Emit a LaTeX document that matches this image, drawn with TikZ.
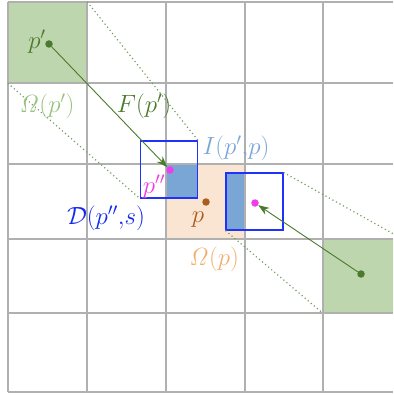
\documentclass[tikz,border=0pt]{standalone}
\usepackage{amsmath,amssymb}
\usetikzlibrary{arrows.meta,positioning,calc}
\definecolor{gridcol}{RGB}{176,176,176}
\definecolor{cellgreen}{RGB}{190,214,174}
\definecolor{darkgreen}{RGB}{74,122,44}
\definecolor{dotgreen}{RGB}{120,160,100}
\definecolor{lightgreen}{RGB}{150,196,128}
\definecolor{cellorange}{RGB}{249,229,209}
\definecolor{textorange}{RGB}{241,176,112}
\definecolor{pbrown}{RGB}{172,92,30}
\definecolor{sqblue}{RGB}{30,50,250}
\definecolor{fillblue}{RGB}{122,166,214}
\definecolor{dblue}{RGB}{20,40,240}
\definecolor{pmag}{RGB}{238,60,238}

\begin{document}
\begin{tikzpicture}[x=1pt,y=-1pt,
   lbl/.style={inner sep=0pt,font=\fontsize{24}{28}\selectfont},
   pt/.style={circle,inner sep=0pt,minimum size=7.5pt},
   cell/.style={rectangle,inner sep=0pt,minimum width=79pt,minimum height=81pt},
   dsq/.style={rectangle,draw=sqblue,line width=1.1pt,inner sep=0pt,minimum size=57pt},
   sweep/.style={dotgreen,line width=1.2pt,dash pattern=on 1.2pt off 2.8pt},
   flow/.style={darkgreen,line width=0.9pt,-{Stealth[length=11pt,width=8pt]}}]
  \useasboundingbox (0,0) rectangle (393,395);
  \begin{scope}
    \clip (0,0) rectangle (393,395);
    % ---------- cells ----------
    \node[cell,fill=cellgreen] (omA) at (47.5,42.5) {};
    \node[cell,fill=cellgreen,minimum height=74pt] (omB) at (362.5,276) {};
    \fill[cellorange] (166,164) rectangle (245,239);
    \fill[fillblue] (166,164) rectangle (198,198);
    \fill[fillblue] (245,173) rectangle (226,230);
    % ---------- grid ----------
    \foreach \x in {8,87,166,245,323}
        {\draw[gridcol,line width=1.3pt](\x,2)--(\x,392);}
    \foreach \y in {2,83,164,239,313,392}
        {\draw[gridcol,line width=1.3pt](8,\y)--(393,\y);}
  \end{scope}
  % ---------- D squares round p'' ----------
  \node[dsq] (dA) at (169,169.5) {};
  \node[dsq] (dB) at (254.5,201.5) {};
  % swept boundaries
  \draw[sweep] (omA.north east)--(dA.north east);
  \draw[sweep] (omA.south west)--(dA.south west);
  \draw[sweep] (dB.north east)--(omB.north east);
  \draw[sweep] (dB.south west)--(omB.south west);
  % ---------- points and flow ----------
  \node[pt,fill=darkgreen] (pA) at (49,44) {};
  \node[pt,fill=darkgreen] (pB) at (361,274) {};
  \node[pt,fill=pmag] (qA) at (170,170) {};
  \node[pt,fill=pmag] (qB) at (255,203) {};
  \node[pt,fill=pbrown] (p) at (206,202) {};
  \draw[flow] (pA)--(qA);
  \draw[flow] (pB)--(qB);
  % ---------- labels ----------
  \node[lbl,text=darkgreen] (lpA) at (37,42) {$p'$};
  \node[lbl,text=lightgreen] (lom) at (47,106) {$\mathit{\Omega}(p')$};
  \node[lbl,text=darkgreen] (lF) at (144,106) {$F(p')$};
  \node[lbl,text=fillblue] (lI) at (236,148) {$I(p'{,}p)$};
  \node[lbl,text=pmag] (lq) at (154,187) {$p''$};
  \node[lbl,text=dblue] (lD) at (106,218) {$\mathcal{D}(p''{,}s)$};
  \node[lbl,text=pbrown] (lp) at (198,220) {$p$};
  \node[lbl,text=textorange] (lomp) at (214,259) {$\mathit{\Omega}(p)$};
\end{tikzpicture}
\end{document}
